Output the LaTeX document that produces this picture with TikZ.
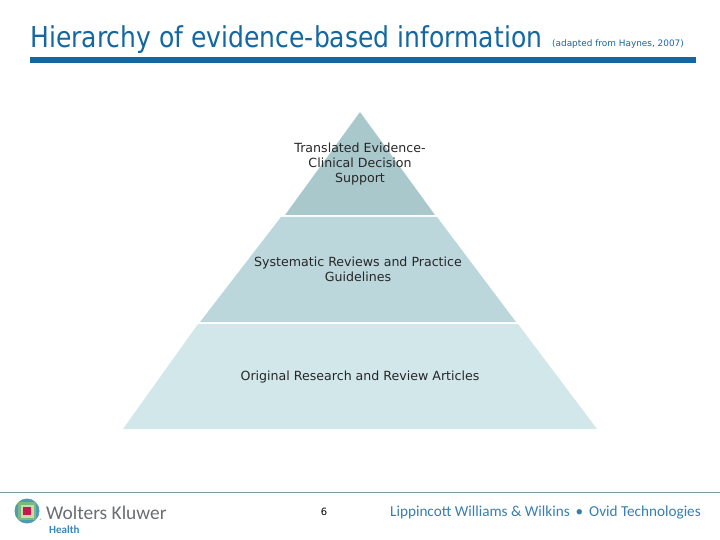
\documentclass[tikz,border=0pt]{standalone}
\usepackage{fontspec}
\setmainfont{DejaVu Sans}
\newfontfamily\titlefont[FakeStretch=0.87]{DejaVu Sans}
\newfontfamily\logofont{Carlito}
\usepackage{xcolor}
\usetikzlibrary{positioning}
\definecolor{ovidblue}{HTML}{1467A0}
\definecolor{tiertop}{HTML}{A9C8CC}
\definecolor{tiermid}{HTML}{BBD7DC}
\definecolor{tierlow}{HTML}{D1E7EA}
\definecolor{footline}{HTML}{7F96A3}
\definecolor{wkgray}{HTML}{6A6E72}
\definecolor{wkblue}{HTML}{3A86B8}
\definecolor{globeout}{HTML}{4F9BB5}
\definecolor{globemid}{HTML}{7DB87F}
\definecolor{globein}{HTML}{C4DDB0}
\definecolor{globered}{HTML}{C8184E}
\begin{document}
\begin{tikzpicture}[
  x=1pt, y=-1pt,
  tier/.style={align=center, font=\fontsize{12.6}{15.3}\selectfont, inner sep=0pt, text=black!85},
  wklabel/.style={inner sep=0pt, anchor=west},
]
\useasboundingbox (0,0) rectangle (720,540);
%% Title and rule
\node[anchor=base west, inner sep=0pt, text=ovidblue, font=\titlefont\fontsize{28.8}{32}\selectfont] (title)
    at (30,47.5) {Hierarchy of evidence-based information};
\node[anchor=base west, inner sep=0pt, text=ovidblue, font=\fontsize{8.9}{10}\selectfont] (source)
    at (552,47) {(adapted from Haynes, 2007)};
\fill[ovidblue] (30,57) rectangle (696,63);

%% Pyramid tiers
\fill[tiertop] (360,112) -- (435,215) -- (285,215) -- cycle;
\fill[tiermid] (281,217) -- (437,217) -- (516,322) -- (200,322) -- cycle;
\fill[tierlow] (198,324) -- (518,324) -- (597,429) -- (123,429) -- cycle;

%% Tier labels
\node[tier] (support) at (360,164) {Translated Evidence-\\Clinical Decision\\Support};
\node[tier] (reviews) at (358,269) {Systematic Reviews and Practice\\Guidelines};
\node[tier] (research) at (360,377) {Original Research and Review Articles};

%% Footer
\draw[footline, line width=0.8pt] (0,492.5) -- (720,492.5);
\begin{scope}
  \clip (27,511) circle (12.5);
  \fill[globeout] (14,498) rectangle (40,524);
  \fill[globemid] (18,502) rectangle (36,520);
  \fill[globein] (20.5,504.5) rectangle (33.5,517.5);
  \fill[globered] (23,507) rectangle (31,514.5);
\end{scope}
\node[inner sep=0pt, text=wkgray, font=\logofont\fontsize{5}{6}\selectfont] (regmark) at (41,520.5) {®};
\node[wklabel, text=wkgray, font=\logofont\fontsize{19.4}{22}\selectfont] (wolters) at (46,513) {Wolters Kluwer};
\node[wklabel, text=wkblue, font=\logofont\bfseries\fontsize{11}{12}\selectfont] (health) at (49,530) {Health};
\node[inner sep=0pt, font=\fontsize{10}{11}\selectfont] (pagenum) at (324,512) {6};
\node[wklabel, text=ovidblue!85!white, font=\logofont\fontsize{15.2}{18}\selectfont] (publisher) at (390,512.5)
    {Lippincott Williams \& Wilkins\, \textbullet\, Ovid Technologies};
\end{tikzpicture}
\end{document}
